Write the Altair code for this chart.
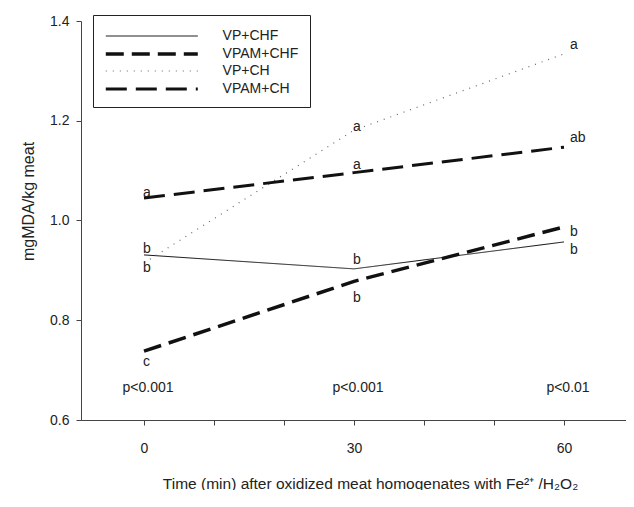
import altair as alt
import pandas as pd

# ---- data ----
times = [0, 30, 60]
series_names = ["VP+CHF", "VPAM+CHF", "VP+CH", "VPAM+CH"]
vp_chf = [0.931, 0.903, 0.957]
vpam_chf = [0.738, 0.878, 0.987]
vp_ch = [0.915, 1.181, 1.334]
vpam_ch = [1.045, 1.096, 1.147]

letter_times = [0, 0, 0, 0, 30, 30, 30, 30, 60, 60, 60, 60]
letter_y = [1.055, 0.943, 0.905, 0.716, 1.187, 1.111, 0.921, 0.845, 1.352, 1.165, 0.977, 0.941]
letter_text = ["a", "b", "b", "c", "a", "a", "b", "b", "a", "ab", "b", "b"]

p_times = [0, 30, 60]
p_y = [0.664, 0.664, 0.664]
p_text = ["p<0.001", "p<0.001", "p<0.01"]

x_ticks = [0, 10, 20, 30, 40, 50, 60]
y_ticks = [0.6, 0.8, 1.0, 1.2, 1.4]

# ---- tables ----
rows = []
for name, vals in zip(series_names, [vp_chf, vpam_chf, vp_ch, vpam_ch]):
    for t, v in zip(times, vals):
        rows.append({"time": t, "value": v, "series": name})
lines_df = pd.DataFrame(rows)
letters_df = pd.DataFrame({"time": letter_times, "y": letter_y, "txt": letter_text})
p_df = pd.DataFrame({"time": p_times, "y": p_y, "txt": p_text})

FONT = "Liberation Sans"
TXT = 14
xscale = alt.Scale(domain=[-9, 68.857], nice=False, zero=False)
yscale = alt.Scale(domain=[0.6, 1.4], nice=False, zero=False)

x_axis = alt.Axis(
    values=x_ticks,
    labelExpr="datum.value % 30 == 0 ? datum.label : ''",
    tickSize=5,
    labelPadding=16,
    grid=False,
    domainColor="#444",
    tickColor="#444",
    labelColor="#222",
    labelFontSize=TXT,
    labelFont=FONT,
    title="Time (min) after oxidized meat homogenates with Fe²⁺ /H₂O₂",
    titleFont=FONT,
    titleFontSize=15.5,
    titleFontWeight="normal",
    titleColor="#222",
    titleX=289,
    titleY=63,
    titleBaseline="middle",
)
y_axis = alt.Axis(
    values=y_ticks,
    format=".1f",
    tickSize=5,
    labelPadding=7,
    grid=False,
    domainColor="#444",
    tickColor="#444",
    labelColor="#222",
    labelFontSize=TXT,
    labelFont=FONT,
    title="mgMDA/kg meat",
    titleFont=FONT,
    titleFontSize=16,
    titleFontWeight="normal",
    titleColor="#222",
    titleX=-53,
    titleY=180,
    titleBaseline="middle",
)

legend = alt.Legend(
    orient="none",
    legendX=12,
    legendY=-6,
    title=None,
    symbolType="M-9,0H1",
    symbolSize=338.56,
    symbolOffset=73.6,
    labelFontSize=TXT,
    labelFont=FONT,
    labelColor="#222",
    labelOffset=23,
    padding=11,
    rowPadding=0,
    strokeColor="#222",
    fillColor="white",
)

lines = alt.Chart(lines_df).mark_line().encode(
    x=alt.X("time:Q", scale=xscale, axis=x_axis),
    y=alt.Y("value:Q", scale=yscale, axis=y_axis),
    strokeDash=alt.StrokeDash(
        "series:N",
        scale=alt.Scale(type="ordinal", domain=series_names,
                        range=[[1, 0], [18, 8], [1, 6], [21, 9]]),
        legend=legend,
    ),
    strokeWidth=alt.StrokeWidth(
        "series:N",
        scale=alt.Scale(type="ordinal", domain=series_names, range=[1, 3.5, 1.2, 3]),
        legend=legend,
    ),
    color=alt.Color(
        "series:N",
        scale=alt.Scale(type="ordinal", domain=series_names,
                        range=["#111", "#111", "#666", "#111"]),
        legend=legend,
    ),
    order=alt.Order("time:Q"),
)

letters_left = alt.Chart(letters_df).transform_filter("datum.time < 60").mark_text(
    align="left", baseline="middle", fontSize=TXT, font=FONT, color="#222", dx=-1
).encode(
    x=alt.X("time:Q", scale=xscale),
    y=alt.Y("y:Q", scale=yscale),
    text="txt:N",
)
letters_right = alt.Chart(letters_df).transform_filter("datum.time == 60").mark_text(
    align="left", baseline="middle", fontSize=TXT, font=FONT, color="#222", dx=6
).encode(
    x=alt.X("time:Q", scale=xscale),
    y=alt.Y("y:Q", scale=yscale),
    text="txt:N",
)
pvals = alt.Chart(p_df).mark_text(
    align="center", baseline="middle", fontSize=TXT, font=FONT, color="#222", dx=4
).encode(
    x=alt.X("time:Q", scale=xscale),
    y=alt.Y("y:Q", scale=yscale),
    text="txt:N",
)

chart = alt.layer(lines, letters_left, letters_right, pvals).properties(
    width=545,
    height=399,
    autosize=alt.AutoSizeParams(type="none"),
    padding={"left": 73, "top": 13, "right": 0, "bottom": 70},
    background="white",
).configure_view(stroke=None)

chart.save("out.html", embed_options={"renderer": "svg", "actions": False})
